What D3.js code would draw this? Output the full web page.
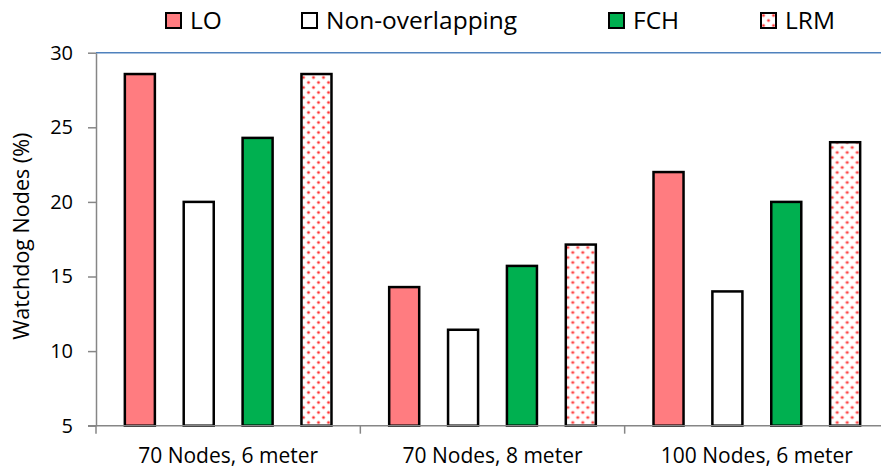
<!DOCTYPE html>
<html>
<head>
<meta charset="utf-8">
<script src="https://cdn.jsdelivr.net/npm/d3@7"></script>
<style>
  html, body { margin: 0; padding: 0; background: #fff; }
  svg { display: block; font-family: "Open Sans", Lato, sans-serif; }
</style>
</head>
<body>
<svg id="chart" width="881" height="472"></svg>
<script>
// Watchdog node share per scenario and scheme
const categories = ["70 Nodes, 6 meter", "70 Nodes, 8 meter", "100 Nodes, 6 meter"];
const seriesNames = ["LO", "Non-overlapping", "FCH", "LRM"];
const valuesLO = [28.57, 14.29, 22];
const valuesNonOverlapping = [20, 11.43, 14];
const valuesFCH = [24.29, 15.71, 20];
const valuesLRM = [28.57, 17.14, 24];
const yTicks = [5, 10, 15, 20, 25, 30];

const seriesValues = [valuesLO, valuesNonOverlapping, valuesFCH, valuesLRM];

const svg = d3.select("#chart");
const plot = { left: 96, right: 889, top: 52.7, bottom: 425.7 };

// pattern for the LRM bars: small red dots on white
const defs = svg.append("defs");
const pat = defs.append("pattern")
  .attr("id", "dots")
  .attr("patternUnits", "userSpaceOnUse")
  .attr("width", 10).attr("height", 10);
pat.append("rect").attr("width", 10).attr("height", 10).attr("fill", "#fff");
[[2.5, 2.5], [7.5, 7.5]].forEach(([cx, cy]) => {
  pat.append("circle").attr("cx", cx).attr("cy", cy).attr("r", 1.9)
    .attr("fill", "#ff3b3b").attr("opacity", 0.35);
  pat.append("circle").attr("cx", cx).attr("cy", cy).attr("r", 1.1)
    .attr("fill", "#ff2020").attr("opacity", 0.9);
});

const fills = ["#ff7c80", "#ffffff", "#00b050", "url(#dots)"];

const x0 = d3.scaleBand().domain(categories).range([plot.left, plot.right]).padding(0);
const x1 = d3.scaleBand().domain(seriesNames).range([0, x0.bandwidth()])
  .paddingInner(0.49).paddingOuter(0.49);
const y = d3.scaleLinear().domain([5, 30]).range([plot.bottom, plot.top]);

// top line at 30
svg.append("line")
  .attr("x1", plot.left).attr("x2", 881)
  .attr("y1", y(30)).attr("y2", y(30))
  .attr("stroke", "#4f81bd").attr("stroke-width", 1.5);

// bars
const groups = svg.append("g").selectAll("g")
  .data(categories)
  .join("g")
  .attr("transform", d => `translate(${x0(d)},0)`);

groups.selectAll("rect")
  .data((c, ci) => seriesNames.map((s, si) => ({ s, si, v: seriesValues[si][ci] })))
  .join("rect")
  .attr("x", d => x1(d.s))
  .attr("width", x1.bandwidth())
  .attr("y", d => y(d.v))
  .attr("height", d => y(5) - y(d.v))
  .attr("fill", d => fills[d.si])
  .attr("stroke", "#000")
  .attr("stroke-width", 2.5);

const fontFamily = "'Open Sans', Lato, sans-serif";

// y axis
const yAxis = svg.append("g")
  .attr("transform", `translate(${plot.left},0)`)
  .call(d3.axisLeft(y).tickValues(yTicks).tickSize(8).tickPadding(15).tickSizeOuter(0));
yAxis.select(".domain").attr("stroke", "#868686").attr("stroke-width", 1.5);
yAxis.selectAll(".tick line").attr("stroke", "#868686").attr("stroke-width", 1.5);
yAxis.selectAll(".tick text")
  .attr("font-size", 20).attr("fill", "#000")
  .style("font-family", fontFamily);

// x axis
const xAxis = svg.append("g")
  .attr("transform", `translate(0,${plot.bottom})`)
  .call(d3.axisBottom(x0).tickSize(0).tickPadding(22));
xAxis.select(".domain").attr("stroke", "#868686").attr("stroke-width", 1.5)
  .attr("d", `M${plot.left - 8},0H${plot.right}`);
xAxis.selectAll(".tick text")
  .attr("font-size", 21).attr("fill", "#000")
  .style("font-family", fontFamily);
// category separators
const bounds = [plot.left].concat(categories.map(c => x0(c) + x0.bandwidth()));
xAxis.selectAll("line.sep")
  .data(bounds)
  .join("line")
  .attr("class", "sep")
  .attr("x1", d => d).attr("x2", d => d)
  .attr("y1", 0).attr("y2", 8)
  .attr("stroke", "#868686").attr("stroke-width", 1.5);

// y axis title
svg.append("text")
  .attr("transform", `translate(29,${(plot.top + plot.bottom) / 2 - 3}) rotate(-90)`)
  .attr("text-anchor", "middle")
  .attr("font-size", 21.5)
  .text("Watchdog Nodes (%)");

// legend
const legendX = [166, 302, 609, 761];
const legend = svg.append("g").selectAll("g")
  .data(seriesNames)
  .join("g")
  .attr("transform", (d, i) => `translate(${legendX[i]},13)`);
legend.append("rect")
  .attr("width", 15).attr("height", 15)
  .attr("fill", (d, i) => fills[i])
  .attr("stroke", "#000").attr("stroke-width", 2);
legend.append("text")
  .attr("x", 24).attr("y", 15.5)
  .attr("font-size", 24.5)
  .text(d => d);
</script>
</body>
</html>
